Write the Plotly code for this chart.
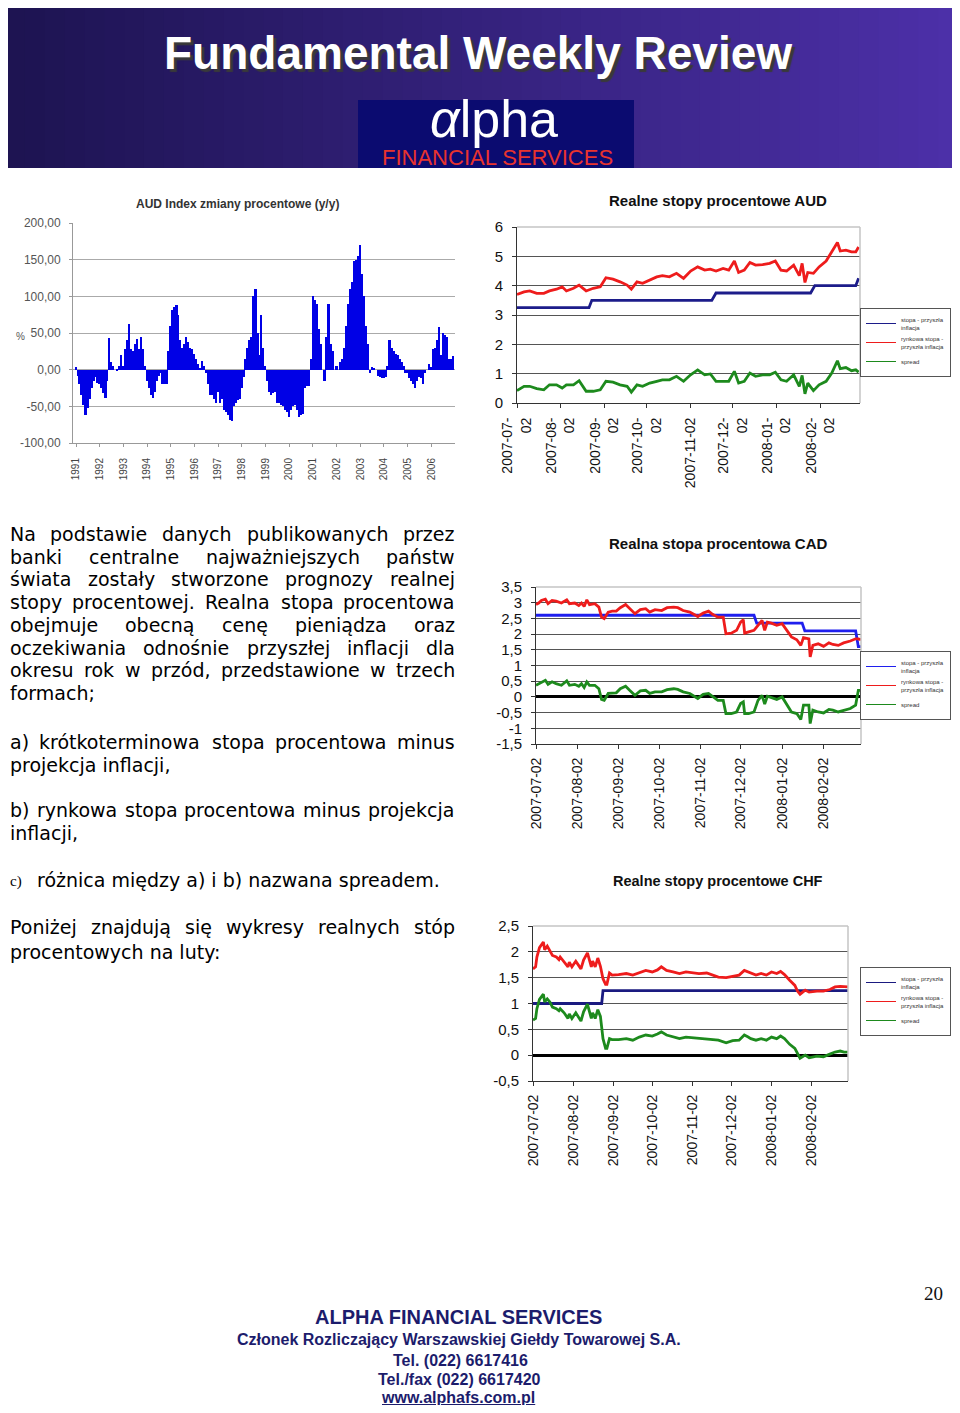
import pandas as pd
import plotly.graph_objects as go

# the page body has an 8px margin, so the figure is sized to fit inside it
PAGE_W, PAGE_H, PAGE_MARGIN = 960, 1413, 8
W, H = PAGE_W - 2 * PAGE_MARGIN, PAGE_H - 2 * PAGE_MARGIN
FONT = "Liberation Sans, Arial, sans-serif"
BODY_FONT = "DejaVu Sans, Verdana, sans-serif"


def px_x(v):
    return (v - PAGE_MARGIN) / W


def px_y(v):
    return 1 - (v - PAGE_MARGIN) / H


# ---- AUD index, y/y change in %, monthly 1991-2006 ----
aud_index_yoy = [
    3, -8, -20, -35, -48, -62, -52, -40, -25, -15, -10, -18,      # 1991
    -20, -25, -32, -38, -15, 43, 10, 5, 0, -2, 5, 20,             # 1992
    5, 28, 40, 62, 28, 25, 35, 42, 28, 45, 28, 5,                 # 1993
    -15, -25, -35, -38, -30, -15, -8, -5, -20, -20, -20, 25,      # 1994
    60, 82, 85, 88, 75, 40, 30, 35, 45, 38, 30, 28,               # 1995
    22, 15, 8, 2, 12, 5, -5, -20, -35, -35, -40, -45,             # 1996
    -30, -45, -40, -55, -58, -62, -68, -70, -50, -45, -42, -40,   # 1997
    -25, -10, 15, 30, 40, 45, 100, 110, 50, 20, 75, 30,           # 1998
    5, -15, -30, -35, -32, -30, -45, -45, -48, -50, -55, -58,     # 1999
    -65, -55, -50, -48, -55, -65, -62, -60, -25, -22, -22, 15,    # 2000
    100, 95, 90, 55, 35, 0, -15, 45, 90, 35, 25, 0,               # 2001
    5, 0, 10, 15, 30, 60, 90, 110, 120, 148, 150, 155,            # 2002
    170, 130, 100, 60, 35, -5, 3, 2, 0, -8, -10, -12,             # 2003
    -12, -10, 5, 40, 30, 25, 22, 20, 15, 10, 5, -5,               # 2004
    -5, -12, -15, -20, -25, -15, -10, -12, -20, -5, 0, 8,         # 2005
    3, 28, 30, 40, 58, 20, 50, 47, 45, 15, 15, 18,                # 2006
]
index_years = [str(y) for y in range(1991, 2007)]
index_ticks = ["-100,00", "-50,00", "0,00", "50,00", "100,00", "150,00", "200,00"]

# ---- real rates, days counted from 2007-07-02 ----
START = pd.Timestamp("2007-07-02")
month_ticks = ["2007-07-02", "2007-08-02", "2007-09-02", "2007-10-02",
               "2007-11-02", "2007-12-02", "2008-01-02", "2008-02-02"]
aud_month_labels = ["2007-07-<br>02", "2007-08-<br>02", "2007-09-<br>02", "2007-10-<br>02",
                    "2007-11-02", "2007-12-<br>02", "2008-01-<br>02", "2008-02-<br>02"]

aud_policy_days = [0, 51, 53, 138, 141, 208, 211, 240, 242]
aud_policy = [3.25, 3.25, 3.5, 3.5, 3.75, 3.75, 4.0, 4.0, 4.25]
aud_days = [0, 5, 9, 14, 19, 23, 28, 32, 35, 40, 44, 49, 54, 59, 63, 68, 73, 78, 81, 85,
            89, 94, 99, 103, 108, 113, 118, 123, 128, 133, 137, 141, 146, 150, 154, 157, 161, 165, 169, 174,
            179, 183, 187, 191, 196, 200, 202, 204, 206, 210, 214, 219, 223, 227, 229, 233, 237, 240, 242]
aud_market = [3.70, 3.79, 3.82, 3.74, 3.74, 3.82, 3.88, 3.96, 3.82, 3.91,
              4.02, 3.82, 3.91, 3.96, 4.27, 4.22, 4.13, 4.02, 3.88, 4.13,
              4.08, 4.19, 4.30, 4.34, 4.30, 4.42, 4.25, 4.50, 4.64, 4.53,
              4.56, 4.50, 4.59, 4.53, 4.84, 4.45, 4.53, 4.79, 4.70, 4.72,
              4.76, 4.84, 4.53, 4.50, 4.70, 4.34, 4.76, 4.11, 4.45, 4.42,
              4.64, 4.84, 5.15, 5.47, 5.18, 5.21, 5.15, 5.15, 5.32]
aud_spread = [0.42, 0.57, 0.57, 0.49, 0.45, 0.62, 0.62, 0.51, 0.62, 0.62,
              0.76, 0.40, 0.40, 0.45, 0.74, 0.71, 0.62, 0.57, 0.37, 0.62,
              0.57, 0.68, 0.74, 0.79, 0.79, 0.91, 0.74, 0.96, 1.13, 0.96,
              0.99, 0.74, 0.74, 0.74, 1.08, 0.68, 0.74, 1.02, 0.91, 0.96,
              0.96, 1.05, 0.79, 0.74, 0.96, 0.57, 0.94, 0.31, 0.68, 0.42,
              0.62, 0.74, 1.02, 1.44, 1.17, 1.21, 1.10, 1.13, 1.05]

cad_policy_days = [0, 163, 165, 199, 201, 239, 241, 243]
cad_policy = [2.6, 2.6, 2.35, 2.35, 2.1, 2.1, 1.6, 1.6]
cad_days = [0, 2, 4, 7, 9, 12, 15, 19, 23, 25, 29, 32, 34, 36, 38, 40, 44, 47, 49, 51,
            54, 57, 60, 63, 67, 70, 74, 78, 82, 85, 89, 94, 98, 103, 106, 110, 115, 121, 125, 129,
            132, 136, 140, 142, 146, 150, 153, 155, 156, 159, 163, 166, 169, 171, 173, 176, 180, 184, 188, 191,
            195, 198, 200, 204, 205, 207, 211, 215, 219, 222, 226, 230, 235, 239, 241, 243]
cad_market = [2.94, 2.99, 3.07, 3.11, 2.97, 3.07, 3.05, 2.99, 3.09, 2.97,
              2.99, 2.91, 2.99, 2.88, 3.09, 2.94, 2.97, 2.86, 2.54, 2.49,
              2.70, 2.73, 2.73, 2.84, 2.94, 2.81, 2.65, 2.78, 2.81, 2.70,
              2.78, 2.75, 2.84, 2.86, 2.84, 2.75, 2.70, 2.56, 2.67, 2.73,
              2.63, 2.54, 2.54, 2.01, 2.03, 2.12, 2.38, 2.46, 2.03, 2.07,
              2.12, 2.28, 2.44, 2.12, 2.38, 2.35, 2.28, 2.33, 2.07, 1.91,
              1.82, 1.64, 1.89, 1.85, 1.27, 1.64, 1.69, 1.61, 1.72, 1.67,
              1.64, 1.72, 1.78, 1.85, 1.85, 1.82]
cad_spread = [0.37, 0.42, 0.48, 0.53, 0.40, 0.48, 0.42, 0.37, 0.51, 0.37,
              0.40, 0.34, 0.42, 0.30, 0.48, 0.37, 0.37, 0.26, -0.08, -0.11,
              0.11, 0.13, 0.13, 0.26, 0.34, 0.21, 0.05, 0.19, 0.21, 0.11,
              0.16, 0.16, 0.23, 0.26, 0.24, 0.16, 0.11, -0.05, 0.08, 0.11,
              0.02, -0.11, -0.11, -0.53, -0.53, -0.48, -0.21, -0.16, -0.53, -0.53,
              -0.48, -0.11, 0.05, -0.23, 0.02, -0.02, -0.08, 0.00, -0.26, -0.48,
              -0.53, -0.72, -0.26, -0.26, -0.85, -0.42, -0.48, -0.51, -0.40, -0.42,
              -0.48, -0.42, -0.37, -0.26, 0.21, 0.21]
cad_ticks = [-1.5, -1, -0.5, 0, 0.5, 1, 1.5, 2, 2.5, 3, 3.5]
cad_tick_labels = ["-1,5", "-1", "-0,5", "0", "0,5", "1", "1,5", "2", "2,5", "3", "3,5"]

chf_policy_days = [0, 53, 54, 243]
chf_policy = [1.0, 1.0, 1.25, 1.25]
chf_days = [0, 2, 3, 5, 8, 9, 11, 13, 15, 18, 20, 21, 24, 27, 28, 30, 33, 35, 37, 39,
            42, 45, 46, 48, 50, 52, 54, 56, 57, 59, 61, 66, 72, 77, 82, 87, 92, 96, 99, 103,
            108, 113, 118, 123, 128, 134, 139, 143, 149, 154, 159, 163, 166, 168, 172, 176, 180, 184, 188, 191,
            194, 198, 202, 204, 206, 210, 213, 219, 224, 229, 233, 237, 240, 243]
chf_market = [1.67, 1.71, 1.90, 2.08, 2.19, 2.04, 2.11, 2.03, 1.93, 1.90,
              1.85, 1.90, 1.80, 1.71, 1.80, 1.71, 1.82, 1.74, 1.67, 1.84,
              1.98, 1.71, 1.82, 1.71, 1.88, 1.72, 1.48, 1.37, 1.37, 1.59,
              1.55, 1.56, 1.58, 1.55, 1.59, 1.64, 1.61, 1.65, 1.71, 1.64,
              1.61, 1.58, 1.61, 1.59, 1.58, 1.59, 1.55, 1.51, 1.50, 1.53,
              1.55, 1.64, 1.61, 1.58, 1.55, 1.58, 1.55, 1.61, 1.58, 1.62,
              1.56, 1.45, 1.35, 1.24, 1.18, 1.26, 1.22, 1.24, 1.24, 1.27,
              1.32, 1.33, 1.32, 1.32]
chf_spread = [0.68, 0.71, 0.90, 1.08, 1.18, 1.03, 1.09, 1.03, 0.93, 0.90,
              0.86, 0.90, 0.82, 0.71, 0.80, 0.71, 0.82, 0.74, 0.66, 0.84,
              0.99, 0.71, 0.82, 0.71, 0.88, 0.75, 0.32, 0.13, 0.13, 0.32,
              0.30, 0.30, 0.32, 0.29, 0.35, 0.39, 0.37, 0.41, 0.45, 0.39,
              0.35, 0.32, 0.35, 0.34, 0.32, 0.32, 0.30, 0.29, 0.24, 0.28,
              0.29, 0.39, 0.35, 0.32, 0.29, 0.32, 0.29, 0.35, 0.32, 0.37,
              0.32, 0.21, 0.13, 0.03, -0.06, 0.00, -0.05, -0.02, -0.03, 0.02,
              0.06, 0.08, 0.06, 0.06]
chf_ticks = [-0.5, 0, 0.5, 1, 1.5, 2, 2.5]
chf_tick_labels = ["-0,5", "0", "0,5", "1", "1,5", "2", "2,5"]

series_names = ["stopa - przyszła<br>inflacja", "rynkowa stopa -<br>przyszła inflacja", "spread"]


def to_dates(days):
    return [START + pd.Timedelta(days=d) for d in days]


fig = go.Figure()

months = pd.date_range("1991-01-01", periods=len(aud_index_yoy), freq="MS")
fig.add_trace(go.Bar(x=months, y=aud_index_yoy, marker=dict(color="#0000e6", line=dict(width=0)),
                     xaxis="x", yaxis="y", showlegend=False))

charts = [
    ("2", "legend", "#1c1c8a", aud_policy_days, aud_policy, aud_days, aud_market, aud_spread),
    ("3", "legend2", "#1f1fee", cad_policy_days, cad_policy, cad_days, cad_market, cad_spread),
    ("4", "legend3", "#1a1a80", chf_policy_days, chf_policy, chf_days, chf_market, chf_spread),
]
for ax, leg, blue, pdays, pvals, mdays, mvals, svals in charts:
    for name, d, v, col in [(series_names[0], pdays, pvals, blue),
                            (series_names[1], mdays, mvals, "#ee1c1c"),
                            (series_names[2], mdays, svals, "#1d8a1d")]:
        fig.add_trace(go.Scatter(x=to_dates(d), y=v, mode="lines", name=name,
                                 line=dict(color=col, width=2.8), xaxis="x" + ax, yaxis="y" + ax,
                                 showlegend=False))
        # thin key for the legend box
        fig.add_trace(go.Scatter(x=[None], y=[None], mode="lines", name=name,
                                 line=dict(color=col, width=1), xaxis="x" + ax, yaxis="y" + ax,
                                 legend=leg))


def date_axis(x0, x1, anchor, labels, standoff):
    return dict(domain=[px_x(x0), px_x(x1)], anchor=anchor, type="date",
                range=["2007-07-02", "2008-03-01"], tickmode="array", tickvals=month_ticks,
                ticktext=labels, tickangle=-90, tickfont=dict(family=FONT, size=14, color="#111"),
                showgrid=False, showline=True, linecolor="#333", ticks="outside", ticklen=4,
                tickcolor="#333", ticklabelstandoff=standoff)


def value_axis(y0, y1, anchor, rng, vals, labels, zero):
    return dict(domain=[px_y(y1), px_y(y0)], anchor=anchor, range=rng, tickmode="array",
                tickvals=vals, ticktext=labels, tickfont=dict(family=FONT, size=15, color="#111"),
                showgrid=True, gridcolor="#555", gridwidth=1, showline=True, linecolor="#333",
                ticks="outside", ticklen=4, tickcolor="#333", zeroline=zero, zerolinecolor="#000",
                zerolinewidth=3, ticklabelstandoff=6)


def legend_box(y):
    return dict(x=px_x(951), y=px_y(y), xanchor="right", yanchor="top", bgcolor="white",
                bordercolor="#555", borderwidth=1, itemwidth=30, tracegroupgap=0,
                font=dict(family=FONT, size=6, color="#333"))


fig.update_layout(
    width=W, height=H, margin=dict(l=0, r=0, t=0, b=0, autoexpand=False),
    paper_bgcolor="white", plot_bgcolor="white", bargap=0,
    xaxis=dict(domain=[px_x(73), px_x(455)], anchor="y", type="date",
               range=["1990-11-15", "2007-01-01"], tickmode="array",
               tickvals=[y + "-01-01" for y in index_years], ticktext=index_years, tickangle=-90,
               tickfont=dict(family=FONT, size=10, color="#444"), showgrid=False, showline=True,
               linecolor="#999", ticks="outside", ticklen=3, tickcolor="#999", ticklabelstandoff=7),
    yaxis=dict(domain=[px_y(443), px_y(223)], anchor="x", range=[-100, 200], tickmode="array",
               tickvals=[-100, -50, 0, 50, 100, 150, 200], ticktext=index_ticks,
               tickfont=dict(family=FONT, size=12, color="#555"), showgrid=True, gridcolor="#aaa",
               showline=True, linecolor="#999", zeroline=False, ticks="outside", ticklen=3,
               tickcolor="#999", ticklabelstandoff=6),
    xaxis2=date_axis(517, 860, "y2", aud_month_labels, 4),
    yaxis2=value_axis(227, 403, "x2", [0, 6], list(range(7)), [str(i) for i in range(7)], False),
    xaxis3=date_axis(536, 861, "y3", month_ticks, 3),
    yaxis3=value_axis(587, 744, "x3", [-1.5, 3.5], cad_ticks, cad_tick_labels, True),
    xaxis4=date_axis(533, 848, "y4", month_ticks, 3),
    yaxis4=value_axis(926, 1081, "x4", [-0.5, 2.5], chf_ticks, chf_tick_labels, True),
    legend=legend_box(308),
    legend2=legend_box(651),
    legend3=legend_box(967),
)

# light plot borders (top and right) over the edge gridlines
shapes = []
for ax in ["2", "3", "4"]:
    for x0, y0, x1, y1 in [(0, 1, 1, 1), (1, 0, 1, 1)]:
        shapes.append(dict(type="line", xref="x%s domain" % ax, yref="y%s domain" % ax,
                           x0=x0, y0=y0, x1=x1, y1=y1, line=dict(color="#c4c4c4", width=1.5),
                           layer="above"))

# header gradient banner
left_rgb, right_rgb = (30, 20, 82), (76, 48, 168)
n = 48
for i in range(n):
    t = i / (n - 1)
    c = tuple(int(left_rgb[k] + (right_rgb[k] - left_rgb[k]) * t) for k in range(3))
    shapes.append(dict(type="rect", xref="paper", yref="paper",
                       x0=px_x(5 + i * 953 / n), x1=px_x(5 + (i + 1) * 953 / n + 1),
                       y0=px_y(168), y1=px_y(0), fillcolor="rgb%s" % (c,), line=dict(width=0),
                       layer="below"))
shapes.append(dict(type="rect", xref="paper", yref="paper", x0=px_x(358), x1=px_x(634),
                   y0=px_y(168), y1=px_y(100), fillcolor="#0b0b70", line=dict(width=0),
                   layer="below"))
fig.update_layout(shapes=shapes)

ann = []


def text(x, y, s, size, color="#000", family=FONT, xanchor="center", weight="normal", **kw):
    ann.append(dict(x=px_x(x), y=px_y(y), xref="paper", yref="paper", text=s, showarrow=False,
                    xanchor=xanchor, yanchor="middle",
                    font=dict(size=size, color=color, family=family, weight=weight, **kw)))


# header
text(478, 53, "Fundamental Weekly Review", 46, "white",
     "Liberation Sans Narrow, Arial Narrow, Liberation Sans, sans-serif", weight="bold",
     shadow="3px 3px 1px #3a3a3a")
text(494, 119, "<i>α</i>lpha", 52, "white", FONT)
text(497, 157, "FINANCIAL SERVICES", 22, "#e8332e", FONT)

# chart titles
text(237, 204, "AUD Index zmiany procentowe (y/y)", 12, "#333", weight="bold")
text(20, 337, "%", 10, "#555")
text(718, 200, "Realne stopy procentowe AUD", 15, "#111", weight="bold")
text(718, 543, "Realna stopa procentowa CAD", 15, "#111", weight="bold")
text(718, 881, "Realne stopy procentowe CHF", 14.5, "#111", weight="bold")

# body text, justified between x=6 and x=453
GLYPH = {" ": 318, "a": 613, "b": 635, "c": 550, "d": 635, "e": 615, "f": 352, "g": 635,
         "h": 634, "i": 278, "j": 278, "k": 579, "l": 278, "m": 974, "n": 634, "o": 612,
         "p": 635, "r": 411, "s": 521, "t": 392, "u": 634, "w": 818, "y": 592, "z": 525,
         "ą": 613, "ę": 615, "ś": 521, "ł": 290, "ż": 525, "ń": 634, "ó": 612, ".": 318,
         ",": 318, ";": 337, ":": 337, ")": 390, "N": 748, "R": 695, "P": 603}
BODY_SIZE = 19


def wlen(word):
    return sum(GLYPH.get(ch, 600) for ch in word) * BODY_SIZE / 1000


body = [
    (534, "Na podstawie danych publikowanych przez", True),
    (557, "banki centralne najważniejszych państw", True),
    (579, "świata zostały stworzone prognozy realnej", True),
    (602, "stopy procentowej. Realna stopa procentowa", True),
    (625, "obejmuje obecną cenę pieniądza oraz", True),
    (648, "oczekiwania odnośnie przyszłej inflacji dla", True),
    (670, "okresu rok w przód, przedstawione w trzech", True),
    (693, "formach;", False),
    (742, "a) krótkoterminowa stopa procentowa minus", True),
    (765, "projekcja inflacji,", False),
    (810, "b) rynkowa stopa procentowa minus projekcja", True),
    (833, "inflacji,", False),
    (927, "Poniżej znajdują się wykresy realnych stóp", True),
    (952, "procentowych na luty:", False),
]
for y, line, justify in body:
    if not justify:
        text(8, y, line, BODY_SIZE, "#000", BODY_FONT, xanchor="left")
        continue
    words = line.split(" ")
    gap = (445 - sum(wlen(w) for w in words)) / (len(words) - 1)
    x = 8
    for w in words:
        text(x, y, w, BODY_SIZE, "#000", BODY_FONT, xanchor="left")
        x += wlen(w) + gap
text(8, 881, "c)", 15, "#000", "Liberation Serif, serif", xanchor="left")
text(35, 880, "różnica między a) i b) nazwana spreadem.", BODY_SIZE, "#000", BODY_FONT,
     xanchor="left")

# footer
NAVY = "#1c1c6c"
text(933, 1293, "20", 19, "#111", "Liberation Serif, serif")
text(458, 1317, "ALPHA FINANCIAL SERVICES", 20, NAVY, weight="bold")
text(459, 1339, "Członek Rozliczający Warszawskiej Giełdy Towarowej S.A.", 16, NAVY, weight="bold")
text(460, 1360, "Tel. (022) 6617416", 16, NAVY, weight="bold")
text(459, 1379, "Tel./fax (022) 6617420", 16, NAVY, weight="bold")
text(458, 1397, "www.alphafs.com.pl", 16, NAVY, weight="bold", lineposition="under")

fig.update_layout(annotations=ann)
fig.write_html("out.html")
